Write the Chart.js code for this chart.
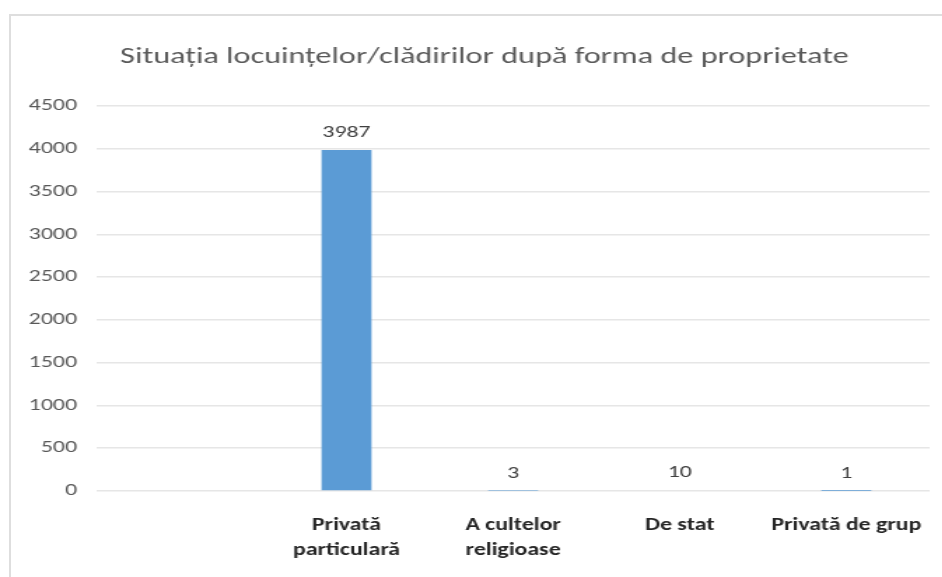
<!DOCTYPE html>
<html>
<head>
<meta charset="utf-8">
<script src="https://cdn.jsdelivr.net/npm/chart.js@4"></script>
<style>
  body { margin: 0; background: #fff; overflow: hidden; }
  #frame { position: absolute; left: 9px; top: 14px; width: 1000px; height: 700px; border: 2px solid #dedede; }
  /* the reference is stretched sideways, so the chart is drawn narrow and widened */
  #wrap { position: absolute; left: 0; top: 0; width: 673px; height: 577px; transform: scaleX(1.4); transform-origin: 0 0; }
</style>
</head>
<body>
<div id="frame"></div>
<div id="wrap"><canvas id="myChart" width="673" height="577"></canvas></div>
<script>
const categories = ["", ["Privată", "particulară"], ["A cultelor", "religioase"], "De stat", "Privată de grup"];
const values = [null, 3987, 3, 10, 1];
const yTicks = [0, 500, 1000, 1500, 2000, 2500, 3000, 3500, 4000, 4500];
const titleText = "Situația locuințelor/clădirilor după forma de proprietate";

const fontFam = "Carlito, 'Liberation Sans Narrow', 'DejaVu Sans Condensed', sans-serif";

// values over bars + the title (sits a bit right of the canvas centre)
const barLabels = {
  id: "barLabels",
  afterDatasetsDraw(chart) {
    const ctx = chart.ctx;
    const meta = chart.getDatasetMeta(0);
    ctx.save();
    ctx.font = "17px " + fontFam;
    ctx.fillStyle = "#404040";
    ctx.textAlign = "center";
    ctx.textBaseline = "middle";
    meta.data.forEach((bar, i) => {
      if (values[i] == null) return;
      ctx.fillText(String(values[i]), bar.x, bar.y - 17);
    });
    ctx.font = "23px " + fontFam;
    ctx.fillStyle = "#595959";
    ctx.fillText(titleText, 346, 57);
    ctx.restore();
  }
};

const cxx = document.getElementById("myChart").getContext("2d");
new Chart(cxx, {
  type: "bar",
  data: {
    labels: categories,
    datasets: [
      {
        data: values,
        backgroundColor: "#5b9bd5",
        barPercentage: 0.3,
        categoryPercentage: 1,
      },
    ],
  },
  options: {
    responsive: false,
    animation: false,
    layout: { padding: { left: 0, right: 9, top: 106, bottom: 0 } },
    plugins: {
      legend: { display: false },
      tooltip: { enabled: false },
      title: { display: false },
    },
    scales: {
      x: {
        grid: { display: false },
        border: { display: false },
        ticks: {
          color: "#262626",
          font: { family: fontFam, size: 17, weight: "bold", lineHeight: 1.47 },
          padding: 14,
          maxRotation: 0,
          autoSkip: false,
        },
        afterFit: (s) => { s.height = 86; },
      },
      y: {
        min: 0,
        max: 4500,
        afterBuildTicks: (s) => { s.ticks = yTicks.map((v) => ({ value: v })); },
        grid: {
          color: "#e6e6e6",
          lineWidth: 1.5,
          drawTicks: false,
        },
        border: { display: false },
        ticks: {
          color: "#595959",
          font: { family: fontFam, size: 17 },
          padding: 14,
          callback: (v) => String(v),
        },
        afterFit: (s) => { s.width = 69; },
      },
    },
  },
  plugins: [barLabels],
});
</script>
</body>
</html>
